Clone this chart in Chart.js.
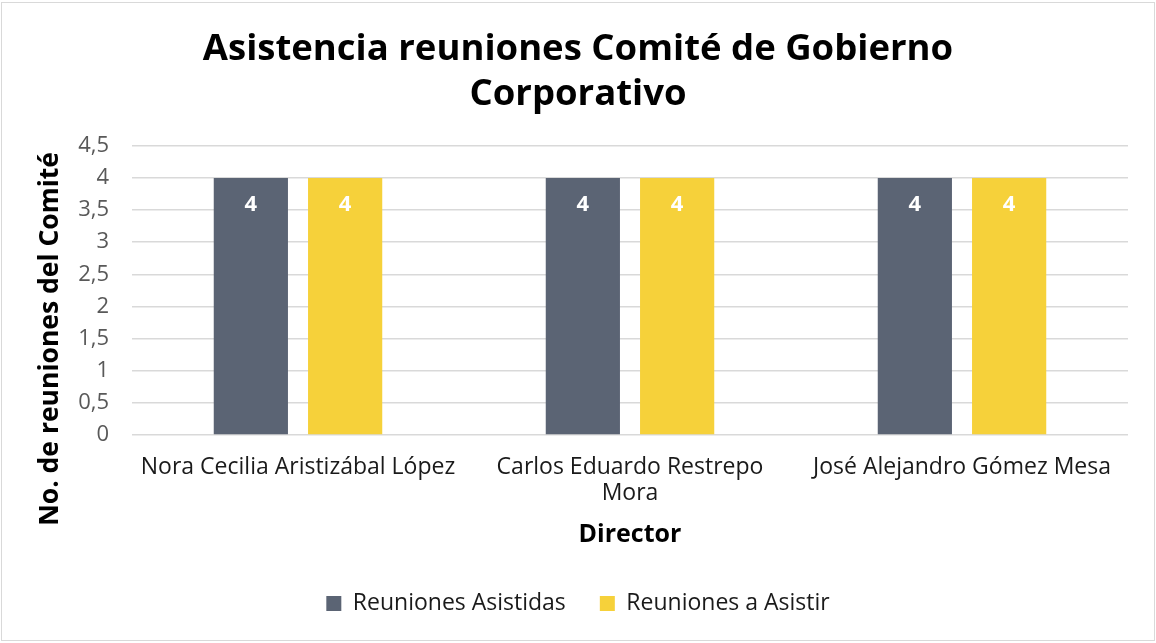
<!DOCTYPE html>
<html>
<head>
<meta charset="utf-8">
<script src="https://cdn.jsdelivr.net/npm/chart.js@4/dist/chart.umd.min.js"></script>
<style>
  html, body { margin: 0; padding: 0; background: #fff; }
  #wrap { position: absolute; left: 1px; top: 2px; width: 1154px; height: 639px; border: 1px solid #d9d9d9; box-sizing: border-box; }
  canvas { display: block; }
</style>
</head>
<body>
<div id="wrap"><canvas id="chart"></canvas></div>
<script>
const directores = [
  "Nora Cecilia Aristizábal López",
  ["Carlos Eduardo Restrepo", "Mora"],
  "José Alejandro Gómez Mesa"
];
const reunionesAsistidas = [4, 4, 4];
const reunionesAAsistir = [4, 4, 4];
const tituloEjeY = "No. de reuniones del Comité";

const fontFamily = "'Open Sans', Lato, sans-serif";

// white value labels inside the top of each bar
const barLabels = {
  id: "barLabels",
  afterDatasetsDraw(chart) {
    const ctx = chart.ctx;
    ctx.save();
    ctx.fillStyle = "#ffffff";
    ctx.font = "bold 22px " + fontFamily;
    ctx.textAlign = "center";
    ctx.textBaseline = "middle";
    chart.data.datasets.forEach((ds, i) => {
      chart.getDatasetMeta(i).data.forEach((bar, j) => {
        ctx.fillText(String(ds.data[j]), bar.x, bar.y + 27);
      });
    });
    ctx.restore();
  }
};

// y axis title, centred on the whole axis block like the original (not on the plot)
const yTitle = {
  id: "yTitle",
  afterDraw(chart) {
    const ctx = chart.ctx;
    const x = chart.scales.y.left + 22;
    const y = (chart.chartArea.top + chart.scales.x.bottom) / 2 - 13;
    ctx.save();
    ctx.translate(x, y);
    ctx.rotate(-Math.PI / 2);
    ctx.fillStyle = "#000000";
    ctx.font = "bold 26.5px " + fontFamily;
    ctx.textAlign = "center";
    ctx.textBaseline = "middle";
    ctx.fillText(tituloEjeY, 0, 0);
    ctx.restore();
  }
};

new Chart(document.getElementById("chart").getContext("2d"), {
  type: "bar",
  data: {
    labels: directores,
    datasets: [
      {
        label: "Reuniones Asistidas",
        data: reunionesAsistidas,
        backgroundColor: "#5b6474",
        categoryPercentage: 0.568,
        barPercentage: 0.787
      },
      {
        label: "Reuniones a Asistir",
        data: reunionesAAsistir,
        backgroundColor: "#f6d13a",
        categoryPercentage: 0.568,
        barPercentage: 0.787
      }
    ]
  },
  options: {
    responsive: true,
    maintainAspectRatio: false,
    animation: false,
    layout: { padding: { left: 26, right: 26, top: 24, bottom: 15 } },
    plugins: {
      title: {
        display: true,
        text: ["Asistencia reuniones Comité de Gobierno", "Corporativo"],
        color: "#000000",
        font: { family: fontFamily, size: 36.5, weight: "bold", lineHeight: 1.23 },
        padding: { top: 0, bottom: 29 }
      },
      legend: {
        position: "bottom",
        labels: {
          color: "#1a1a1a",
          font: { family: fontFamily, size: 23 },
          boxWidth: 15,
          boxHeight: 15,
          padding: 34
        }
      },
      tooltip: { enabled: false }
    },
    scales: {
      x: {
        grid: { display: false },
        border: { display: false },
        ticks: { color: "#1a1a1a", font: { family: fontFamily, size: 23, lineHeight: 1.15 }, maxRotation: 0, padding: 11 },
        title: {
          display: true,
          text: "Director",
          color: "#000000",
          font: { family: fontFamily, size: 25, weight: "bold" },
          padding: { top: 2, bottom: 8 }
        }
      },
      y: {
        min: 0,
        max: 4.5,
        afterFit: s => { s.width = 104; },
        ticks: {
          stepSize: 0.5,
          color: "#595959",
          font: { family: fontFamily, size: 22 },
          padding: 23,
          callback: v => String(v).replace(".", ",")
        },
        grid: { color: "#d9d9d9", lineWidth: 1.5, drawTicks: false },
        border: { display: false }
      }
    }
  },
  plugins: [barLabels, yTitle]
});
</script>
</body>
</html>
